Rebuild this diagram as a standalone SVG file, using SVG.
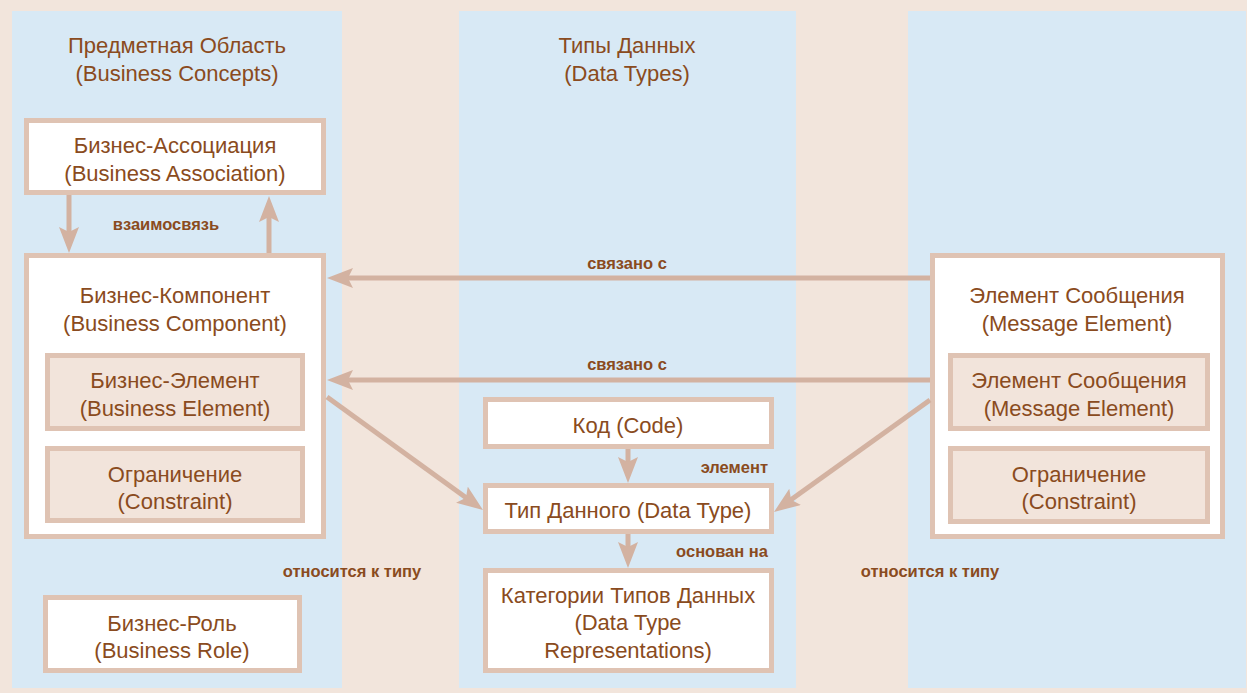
<svg xmlns="http://www.w3.org/2000/svg" width="1247" height="693" viewBox="0 0 1247 693">
<defs>
<style>
.panel{fill:#D8E9F5}
.box{fill:#FFFFFF;stroke:#DFC3B3;stroke-width:5}
.inner{fill:#F2E4DB;stroke:#DFC3B3;stroke-width:5}
.t{font-family:"Liberation Sans",Arial,sans-serif;font-size:22px;fill:#8A4B20;text-anchor:middle}
.lbl{font-family:"Liberation Sans",Arial,sans-serif;font-size:16.5px;font-weight:bold;fill:#8A4B20;text-anchor:middle}
.conn{stroke:#D3B2A1;stroke-width:5;fill:none;marker-end:url(#ah)}
</style>
<marker id="ah" markerUnits="userSpaceOnUse" markerWidth="28" markerHeight="22" refX="18" refY="10" orient="auto" viewBox="0 0 28 22">
<path d="M0,0 L26,10 L0,20 L5,10 z" fill="#D3B2A1"/>
</marker>
</defs>
<rect x="0" y="0" width="1247" height="693" fill="#F2E5DC"/>
<g id="panels">
<rect class="panel" x="12" y="11" width="330" height="677"/>
<rect class="panel" x="459" y="11" width="337" height="677"/>
<rect class="panel" x="908" y="11" width="338" height="677"/>
</g>
<g id="titles">
<text class="t" x="177" y="53">Предметная Область</text>
<text class="t" x="177" y="81">(Business Concepts)</text>
<text class="t" x="627" y="53">Типы Данных</text>
<text class="t" x="627" y="81">(Data Types)</text>
</g>
<g id="business-association">
<rect class="box" x="26.5" y="120.5" width="297" height="72"/>
<text class="t" x="175" y="153">Бизнес-Ассоциация</text>
<text class="t" x="175" y="181">(Business Association)</text>
</g>
<g id="business-component">
<rect class="box" x="26.5" y="255.5" width="297" height="281"/>
<text class="t" x="175" y="303">Бизнес-Компонент</text>
<text class="t" x="175" y="331">(Business Component)</text>
</g>
<g id="business-element">
<rect class="inner" x="47.5" y="355.5" width="255" height="73"/>
<text class="t" x="175" y="388">Бизнес-Элемент</text>
<text class="t" x="175" y="416">(Business Element)</text>
</g>
<g id="business-constraint">
<rect class="inner" x="47.5" y="448.5" width="255" height="72"/>
<text class="t" x="175" y="482">Ограничение</text>
<text class="t" x="175" y="509">(Constraint)</text>
</g>
<g id="business-role">
<rect class="box" x="45.5" y="597.5" width="254" height="73"/>
<text class="t" x="172" y="631">Бизнес-Роль</text>
<text class="t" x="172" y="658">(Business Role)</text>
</g>
<g id="code">
<rect class="box" x="485.5" y="399.5" width="286" height="47"/>
<text class="t" x="628" y="433">Код (Code)</text>
</g>
<g id="data-type">
<rect class="box" x="485.5" y="485.5" width="286" height="46"/>
<text class="t" x="628" y="518">Тип Данного (Data Type)</text>
</g>
<g id="data-type-representations">
<rect class="box" x="485.5" y="570.5" width="286" height="100"/>
<text class="t" x="628" y="603">Категории Типов Данных</text>
<text class="t" x="628" y="630">(Data Type</text>
<text class="t" x="628" y="658">Representations)</text>
</g>
<g id="message-element">
<rect class="box" x="932.5" y="255.5" width="290" height="281"/>
<text class="t" x="1077" y="303">Элемент Сообщения</text>
<text class="t" x="1077" y="331">(Message Element)</text>
</g>
<g id="message-element-inner">
<rect class="inner" x="950.5" y="355.5" width="257" height="73"/>
<text class="t" x="1079" y="388">Элемент Сообщения</text>
<text class="t" x="1079" y="416">(Message Element)</text>
</g>
<g id="message-constraint">
<rect class="inner" x="950.5" y="448.5" width="257" height="73"/>
<text class="t" x="1079" y="482">Ограничение</text>
<text class="t" x="1079" y="509">(Constraint)</text>
</g>
<g id="connectors">
<line class="conn" x1="69" y1="195" x2="69" y2="245"/>
<line class="conn" x1="269" y1="253" x2="269" y2="204"/>
<line class="conn" x1="930" y1="278" x2="335" y2="278"/>
<line class="conn" x1="930" y1="380" x2="335" y2="380"/>
<line class="conn" x1="327" y1="397" x2="476.5" y2="505.3"/>
<line class="conn" x1="930" y1="400" x2="780.5" y2="507.3"/>
<line class="conn" x1="628" y1="449" x2="628" y2="475"/>
<line class="conn" x1="628" y1="534" x2="628" y2="560"/>
</g>
<g id="labels">
<text class="lbl" x="166" y="230">взаимосвязь</text>
<text class="lbl" x="627" y="269">связано с</text>
<text class="lbl" x="627" y="370">связано с</text>
<text class="lbl" x="768" y="473" style="text-anchor:end">элемент</text>
<text class="lbl" x="768" y="557" style="text-anchor:end">основан на</text>
<text class="lbl" x="352" y="577">относится к типу</text>
<text class="lbl" x="930" y="577">относится к типу</text>
</g>
</svg>
